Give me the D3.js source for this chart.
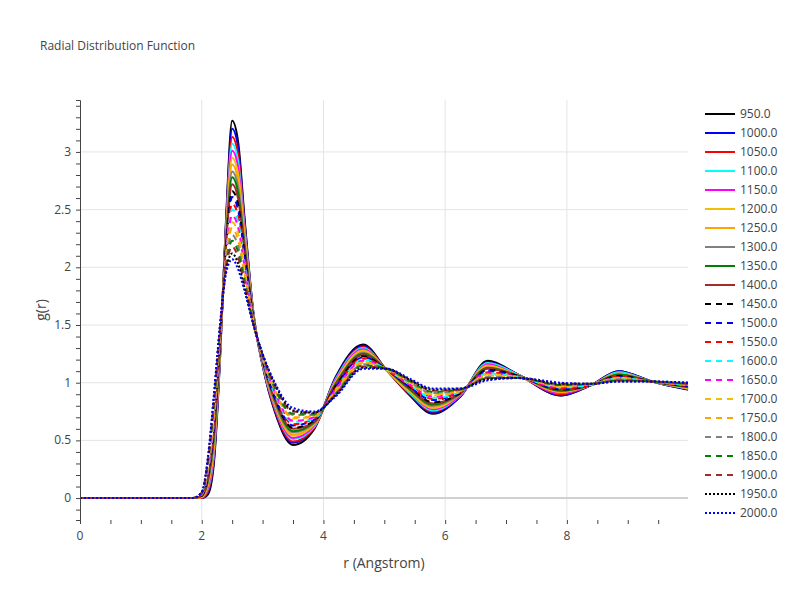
<!doctype html>
<html lang="en">
<head>
<meta charset="utf-8">
<style>
  body { margin: 0; background: #fff; }
  text { font-family: "Open Sans", Arial, sans-serif; fill: #444; }
</style>
</head>
<body>
<script src="https://cdnjs.cloudflare.com/ajax/libs/d3/7.8.5/d3.min.js"></script>
<div id="chart"></div>
<script>
// r sample positions (Angstrom)
var rGrid = [0, 1.85, 2.0, 2.1, 2.2, 2.3, 2.4, 2.5, 2.6, 2.7, 2.85, 3.0, 3.2, 3.5, 3.85, 4.2, 4.65, 5.05, 5.4, 5.8, 6.25, 6.7, 7.2, 7.9, 8.4, 8.85, 9.4, 9.99];

var temps = ["950.0","1000.0","1050.0","1100.0","1150.0","1200.0","1250.0","1300.0","1350.0","1400.0","1450.0",
             "1500.0","1550.0","1600.0","1650.0","1700.0","1750.0","1800.0","1850.0","1900.0","1950.0","2000.0"];

var colors = ["black","blue","red","cyan","magenta","#f0c000","orange","grey","green","brown","black",
              "blue","red","cyan","magenta","#f0c000","orange","grey","green","brown","black","blue"];
var dashes = ["solid","solid","solid","solid","solid","solid","solid","solid","solid","solid","dash",
              "dash","dash","dash","dash","dash","dash","dash","dash","dash","dot","dot"];

// g(r), one row per temperature
var gValues = [
 [0,0,0,0.03,0.3,1.2,2.42,3.27,3.08,2.45,1.6,1.15,0.75,0.46,0.6,1.05,1.33,1.1,0.9,0.73,0.88,1.19,1.07,0.89,0.98,1.10,1.01,0.94],
 [0,0,0,.05,.33,1.21,2.4,3.2,3.03,2.42,1.6,1.15,.76,.48,.61,1.04,1.32,1.1,.91,.74,.88,1.18,1.07,.89,.98,1.1,1.01,.94],
 [0,0,0,.06,.36,1.23,2.37,3.13,2.97,2.39,1.59,1.16,.77,.49,.61,1.03,1.31,1.1,.91,.75,.89,1.17,1.07,.9,.98,1.09,1.01,.95],
 [0,0,.01,.08,.39,1.24,2.34,3.07,2.91,2.36,1.59,1.16,.79,.51,.62,1.03,1.3,1.1,.92,.76,.89,1.17,1.07,.91,.98,1.09,1.01,.95],
 [0,0,.01,.09,.41,1.26,2.31,3.01,2.86,2.33,1.58,1.17,.8,.52,.63,1.02,1.29,1.1,.93,.77,.89,1.16,1.06,.91,.98,1.08,1.01,.95],
 [0,0,.01,.11,.44,1.27,2.29,2.95,2.8,2.3,1.58,1.17,.81,.54,.64,1.01,1.28,1.1,.93,.78,.9,1.15,1.06,.92,.98,1.08,1.01,.95],
 [0,0,.01,.12,.47,1.29,2.27,2.89,2.74,2.26,1.57,1.18,.82,.55,.64,1.0,1.27,1.11,.94,.79,.9,1.14,1.06,.92,.98,1.07,1.01,.96],
 [0,0,.02,.14,.5,1.3,2.25,2.83,2.69,2.23,1.57,1.18,.83,.57,.65,.99,1.26,1.11,.95,.8,.9,1.13,1.06,.93,.98,1.07,1.01,.96],
 [0,0,.02,.15,.53,1.31,2.23,2.78,2.64,2.2,1.56,1.19,.85,.58,.66,.99,1.25,1.11,.95,.81,.91,1.13,1.06,.93,.98,1.07,1.01,.96],
 [0,0,.02,.17,.56,1.33,2.21,2.72,2.59,2.17,1.56,1.19,.86,.6,.66,.98,1.24,1.11,.96,.82,.91,1.12,1.06,.94,.98,1.06,1.01,.97],
 [0,0,.02,.18,.59,1.34,2.19,2.66,2.54,2.14,1.55,1.2,.87,.61,.67,.97,1.23,1.11,.97,.83,.91,1.11,1.06,.94,.98,1.06,1.01,.97],
 [0,0,.03,.2,.61,1.36,2.16,2.61,2.49,2.11,1.55,1.2,.88,.63,.68,.96,1.22,1.11,.97,.85,.92,1.1,1.05,.95,.98,1.05,1.01,.97],
 [0,0,.03,.21,.64,1.37,2.14,2.55,2.44,2.08,1.54,1.21,.89,.64,.69,.95,1.21,1.11,.98,.86,.92,1.09,1.05,.95,.98,1.05,1.01,.97],
 [0,0,.03,.23,.67,1.39,2.12,2.5,2.39,2.05,1.54,1.21,.9,.66,.69,.94,1.2,1.11,.99,.87,.92,1.08,1.05,.96,.98,1.04,1.01,.98],
 [0,0,.03,.24,.7,1.4,2.1,2.45,2.34,2.02,1.53,1.22,.92,.67,.7,.94,1.19,1.11,.99,.88,.93,1.08,1.05,.96,.99,1.04,1.01,.98],
 [0,0,.04,.26,.73,1.41,2.08,2.39,2.29,1.99,1.53,1.22,.93,.69,.71,.93,1.18,1.11,1.0,.89,.93,1.07,1.05,.97,.99,1.04,1.01,.98],
 [0,0,.04,.27,.76,1.43,2.06,2.34,2.23,1.95,1.52,1.23,.94,.7,.71,.92,1.17,1.12,1.01,.9,.93,1.06,1.05,.97,.99,1.03,1.01,.99],
 [0,0,.04,.29,.79,1.44,2.04,2.28,2.18,1.92,1.52,1.23,.95,.72,.72,.91,1.16,1.12,1.01,.91,.94,1.05,1.05,.98,.99,1.03,1.01,.99],
 [0,0,.04,.3,.81,1.46,2.01,2.23,2.13,1.89,1.51,1.24,.96,.73,.73,.9,1.15,1.12,1.02,.92,.94,1.04,1.04,.98,.99,1.02,1.01,.99],
 [0,0,.05,.32,.84,1.47,1.99,2.18,2.08,1.86,1.51,1.24,.98,.75,.74,.9,1.14,1.12,1.03,.93,.94,1.04,1.04,.99,.99,1.02,1.01,.99],
 [0,0,.05,.33,.87,1.49,1.97,2.12,2.03,1.83,1.5,1.25,.99,.76,.74,.89,1.13,1.12,1.03,.94,.95,1.03,1.04,.99,.99,1.01,1.01,1.0],
 [0,0,0.05,0.35,0.9,1.5,1.95,2.07,1.98,1.8,1.5,1.25,1.0,0.78,0.75,0.88,1.12,1.12,1.04,0.95,0.95,1.02,1.04,1.0,0.99,1.01,1.01,1.0]
];

var xTicks = [0, 2, 4, 6, 8];
var yTicks = [0, 0.5, 1, 1.5, 2, 2.5, 3];

var width = 800, height = 600;
var m = {left: 80, right: 112, top: 100, bottom: 80};

var svg = d3.select("#chart").append("svg")
    .attr("width", width).attr("height", height);

var x = d3.scaleLinear().domain([0, 9.99]).range([m.left, width - m.right]);
var y = d3.scaleLinear().domain([-0.19, 3.45]).range([height - m.bottom, m.top]);

var dashArr = {solid: null, dash: "6,5", dot: "2,2"};

// grid
svg.append("g").selectAll("line").data(xTicks.slice(1)).enter().append("line")
   .attr("x1", d => x(d)).attr("x2", d => x(d))
   .attr("y1", m.top).attr("y2", height - m.bottom)
   .attr("stroke", "#e4e4e4");
svg.append("g").selectAll("line").data(yTicks.slice(1)).enter().append("line")
   .attr("x1", m.left).attr("x2", width - m.right)
   .attr("y1", d => y(d)).attr("y2", d => y(d))
   .attr("stroke", "#e4e4e4");
svg.append("line")
   .attr("x1", m.left).attr("x2", width - m.right)
   .attr("y1", y(0)).attr("y2", y(0))
   .attr("stroke", "#d0d0d0").attr("stroke-width", 2);

// curves
var line = d3.line()
    .x((d, i) => x(rGrid[i]))
    .y(d => y(d))
    .curve(d3.curveMonotoneX);

svg.append("g").selectAll("path").data(gValues).enter().append("path")
   .attr("d", line)
   .attr("fill", "none")
   .attr("stroke", (d, i) => colors[i])
   .attr("stroke-width", 2)
   .attr("stroke-dasharray", (d, i) => dashArr[dashes[i]]);

// axes
var yAxis = svg.append("g").attr("transform", "translate(" + m.left + ",0)")
   .call(d3.axisLeft(y).tickValues(d3.range(-1, 35).map(v => v / 10)).tickSize(4).tickFormat(""));
yAxis.select(".domain").attr("stroke", "#444");
yAxis.selectAll(".tick line").attr("stroke", "#444");
svg.append("g").selectAll("text").data(yTicks).enter().append("text")
   .attr("x", m.left - 9).attr("y", d => y(d) + 4)
   .attr("text-anchor", "end").attr("font-size", 12).text(d => d);

var xAxis = svg.append("g").attr("transform", "translate(0," + (height - m.bottom) + ")")
   .call(d3.axisBottom(x).tickValues(d3.range(0, 20).map(v => v / 2)).tickSize(4).tickFormat(""));
xAxis.select(".domain").remove();
xAxis.selectAll(".tick line").attr("stroke", "#444");
svg.append("g").selectAll("text").data(xTicks).enter().append("text")
   .attr("x", d => x(d)).attr("y", height - m.bottom + 20)
   .attr("text-anchor", "middle").attr("font-size", 12).text(d => d);

// titles
svg.append("text").attr("x", 40).attr("y", 50).attr("font-size", 12).text("Radial Distribution Function");
svg.append("text").attr("x", (m.left + width - m.right) / 2).attr("y", 568)
   .attr("text-anchor", "middle").attr("font-size", 14).text("r (Angstrom)");
svg.append("text").attr("transform", "translate(46," + ((m.top + height - m.bottom) / 2) + ") rotate(-90)")
   .attr("text-anchor", "middle").attr("font-size", 14).text("g(r)");

// legend
var leg = svg.append("g").selectAll("g").data(temps).enter().append("g")
   .attr("transform", (d, i) => "translate(705," + (114 + i * 19) + ")");
leg.append("line").attr("x1", 0).attr("x2", 30)
   .attr("stroke", (d, i) => colors[i]).attr("stroke-width", 2)
   .attr("stroke-dasharray", (d, i) => dashArr[dashes[i]]);
leg.append("text").attr("x", 35).attr("y", 4).attr("font-size", 12).text(d => d);
</script>
</body>
</html>
